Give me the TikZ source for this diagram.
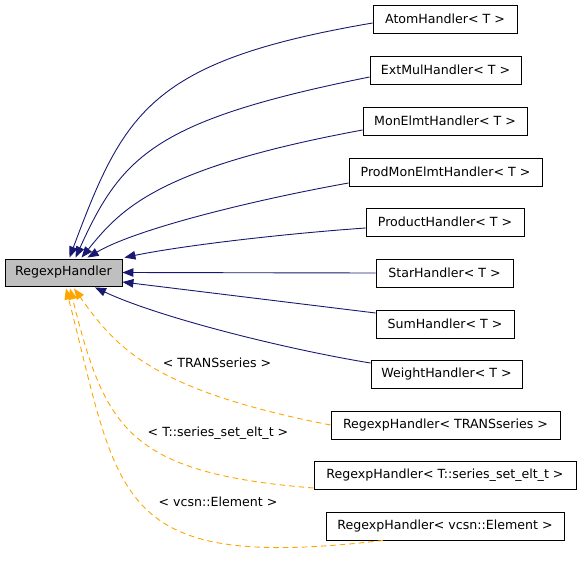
\documentclass[tikz,border=0pt]{standalone}
\usepackage{fontspec}
\setmainfont{DejaVu Sans}
\usetikzlibrary{arrows.meta}
\definecolor{navyc}{RGB}{25,25,112}
\definecolor{orangec}{RGB}{255,165,0}
\definecolor{basefill}{RGB}{191,191,191}
\begin{document}
\begin{tikzpicture}[x=1pt,y=-1pt,
  box/.style={draw=black, line width=0.9pt, minimum height=28pt, inner sep=0pt, fill=white,
    font=\fontsize{12.6}{14}\selectfont},
  inh/.style={draw=navyc, line width=0.9pt, -{Triangle[length=11pt,width=8.5pt]}},
  tmpl/.style={draw=orangec, line width=0.9pt, dash pattern=on 5.5pt off 4pt,
    -{Triangle[length=11pt,width=8.5pt]}},
  lbl/.style={font=\fontsize{12.6}{14}\selectfont, inner sep=0pt}]
\useasboundingbox (0,0) rectangle (581,567);
\node[box, fill=basefill, minimum width=117pt, minimum height=27pt] (base) at (63.5,272.5) {RegexpHandler};
\node[box, minimum width=144pt] (atom) at (445,19) {AtomHandler< T >};
\node[box, minimum width=151pt] (extmul) at (445.5,70) {ExtMulHandler< T >};
\node[box, minimum width=164pt] (monelmt) at (445,121) {MonElmtHandler< T >};
\node[box, minimum width=193pt] (prodmon) at (445.5,172) {ProdMonElmtHandler< T >};
\node[box, minimum width=158pt] (product) at (445,222) {ProductHandler< T >};
\node[box, minimum width=137pt] (star) at (444.5,273) {StarHandler< T >};
\node[box, minimum width=138pt] (sum) at (445,324) {SumHandler< T >};
\node[box, minimum width=151pt] (weight) at (446.5,374) {WeightHandler< T >};
\node[box, minimum width=229pt] (trans) at (445.5,425) {RegexpHandler< TRANSseries >};
\node[box, minimum width=262pt] (tseries) at (445,475.5) {RegexpHandler< T::series\_set\_elt\_t >};
\node[box, minimum width=238pt] (vcsn) at (445,526) {RegexpHandler< vcsn::Element >};

\draw[inh] ([yshift=-4pt]atom.west) .. controls (150,61) and (124,112) .. ([xshift=65pt,yshift=1pt]base.north west);
\draw[inh] ([yshift=-7pt]extmul.west) .. controls (156,120) and (122,155) .. ([xshift=71pt,yshift=1pt]base.north west);
\draw[inh] ([yshift=-9pt]monelmt.west) .. controls (157,168) and (121,209) .. ([xshift=77pt,yshift=1pt]base.north west);
\draw[inh] ([yshift=-11pt]prodmon.west) .. controls (259,199) and (138,228) .. ([xshift=83pt,yshift=1pt]base.north west);
\draw[inh] ([yshift=-6pt]product.west) .. controls (280,234) and (180,246) .. ([xshift=2pt,yshift=1pt]base.north east);
\draw[inh] (star.west) -- (base.east);
\draw[inh] ([yshift=11pt]sum.west) -- ([yshift=-9.5pt]base.east);
\draw[inh] ([yshift=11pt]weight.west) .. controls (290,350) and (160,318) .. ([xshift=31.5pt,yshift=-1pt]base.south);

\draw[tmpl] (trans.west) .. controls (150,390) and (115,346) .. ([xshift=10.5pt,yshift=-2pt]base.south);
\draw[tmpl] ([yshift=-12.5pt]tseries.west) .. controls (127,473) and (105,428) .. ([xshift=6.5pt,yshift=-2pt]base.south);
\draw[tmpl] ([xshift=-62pt]vcsn.south) .. controls (113,572) and (120,500) .. ([xshift=2.5pt,yshift=-2pt]base.south);

\node[lbl] (l1) at (217,363) {< TRANSseries >};
\node[lbl] (l2) at (218,433) {< T::series\_set\_elt\_t >};
\node[lbl] (l3) at (218,502) {< vcsn::Element >};
\end{tikzpicture}
\end{document}
